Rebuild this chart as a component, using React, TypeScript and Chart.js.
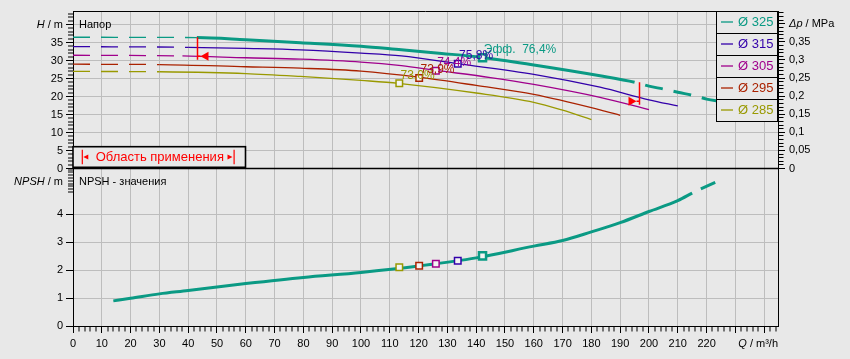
import React, { useEffect, useRef } from 'react';
import { Chart, registerables } from 'chart.js';

Chart.register(...registerables);

const FONT = '"Liberation Sans", Arial, Helvetica, sans-serif';
const BG = '#e8e8e8';
const GRID = '#bdbdbd';

// ---- series ----
const diameters = ['Ø 325', 'Ø 315', 'Ø 305', 'Ø 295', 'Ø 285'];
const colors = ['#0a9a84', '#3300aa', '#a0008c', '#aa2200', '#999900'];

const q325 = [0, 43, 60, 79, 100, 114, 128, 142, 160, 183, 195, 200, 205, 210, 216, 220, 225];
const h325 = [36.5, 36.4, 35.8, 35.0, 34.0, 33.0, 32.0, 30.9, 28.8, 25.8, 24.0, 22.9, 22.1, 21.2, 20.2, 19.3, 18.6];
const q315 = [0, 40, 60, 79, 100, 114, 134, 160, 183, 200, 210];
const h315 = [33.9, 33.7, 33.4, 33.0, 32.1, 31.3, 29.1, 26.2, 22.6, 19.1, 17.4];
const q305 = [0, 38, 60, 79, 100, 114, 126, 145, 160, 183, 200];
const h305 = [31.5, 31.3, 30.8, 30.4, 29.6, 28.6, 27.3, 25.3, 23.4, 19.8, 16.4];
const q295 = [0, 30, 60, 79, 100, 120, 140, 160, 183, 190];
const h295 = [29.0, 28.9, 28.3, 27.9, 27.1, 25.4, 23.1, 20.6, 16.3, 14.8];
const q285 = [0, 30, 60, 79, 100, 113, 140, 160, 170, 180];
const h285 = [27.0, 26.9, 26.4, 25.6, 24.5, 23.7, 21.0, 18.4, 16.2, 13.6];

// dashed (outside range) until these flows; 325 dashed again after extStartQ
const dashEndQ = [43, 40, 38, 30, 30];
const extStartQ = 195;

// efficiency points
const effQ = [142.2, 133.6, 126.0, 120.2, 113.3];
const effH = [30.8, 29.1, 27.2, 25.2, 23.7];
const effNpsh = [2.51, 2.34, 2.23, 2.16, 2.1];
const effLabels = ['Эфф.  76,4%', '75,8%', '74,4%', '73,9%', '73,0%'];

// NPSH curve
const npshQ = [14, 20, 30, 40, 50, 60, 80, 100, 120, 140, 160, 170, 180, 190, 200, 210, 215, 216.5, 218, 223];
const npshV = [0.9, 0.99, 1.15, 1.27, 1.4, 1.52, 1.74, 1.92, 2.15, 2.44, 2.86, 3.06, 3.37, 3.7, 4.1, 4.49, 4.76, null, 4.91, 5.14];

// application range
const appRangeQ = [43, 196.4];
const appRangeH = [36.5, 24.0];

// axes
const xMax = 244.8;
const hMax = 43.8;
const npshMax = 5.64;
const dpMax = 0.4354;
const npshTicks = [0, 1, 2, 3, 4, 4.8, 4.9, 5, 5.1, 5.2, 5.3, 5.4, 5.5, 5.6];

type Part = [string, boolean];
function drawParts(ctx: CanvasRenderingContext2D, parts: Part[], x: number, y: number, align: 'left' | 'right', size: number, color: string) {
  ctx.save();
  ctx.fillStyle = color;
  ctx.textBaseline = 'middle';
  ctx.textAlign = 'left';
  const fonts = parts.map(([, it]) => `${it ? 'italic ' : ''}${size}px ${FONT}`);
  let total = 0;
  const widths = parts.map(([t], i) => {
    ctx.font = fonts[i];
    const w = ctx.measureText(t).width;
    total += w;
    return w;
  });
  let cx = align === 'right' ? x - total : x;
  parts.forEach(([t], i) => {
    ctx.font = fonts[i];
    ctx.fillText(t, cx, y);
    cx += widths[i];
  });
  ctx.restore();
}

const overlay = {
  id: 'overlay',
  beforeDraw(chart: any) {
    const { ctx, width, height } = chart;
    ctx.save();
    ctx.fillStyle = BG;
    ctx.fillRect(0, 0, width, height);
    ctx.restore();
  },
  afterDraw(chart: any) {
    const { ctx, chartArea: ca } = chart;
    const xs = chart.scales.x;
    const yH = chart.scales.yH;
    const yN = chart.scales.yN;
    const yP = chart.scales.yP;
    ctx.save();

    // frame top & divider
    ctx.strokeStyle = '#000';
    ctx.lineWidth = 1;
    ctx.beginPath();
    ctx.moveTo(ca.left, Math.round(ca.top) + 0.5);
    ctx.lineTo(ca.right, Math.round(ca.top) + 0.5);
    ctx.stroke();
    ctx.lineWidth = 1.5;
    ctx.beginPath();
    ctx.moveTo(ca.left, yH.bottom);
    ctx.lineTo(ca.right, yH.bottom);
    ctx.stroke();

    // efficiency labels
    const meta = chart.getDatasetMeta(0);
    meta.data.forEach((pt: any, i: number) => {
      ctx.font = `12px ${FONT}`;
      ctx.fillStyle = colors[i];
      ctx.textAlign = 'left';
      ctx.textBaseline = 'middle';
      ctx.fillText(effLabels[i], pt.x + 1.3, pt.y - 8);
    });

    // application range markers
    appRangeQ.forEach((q, i) => {
      const px = Math.round(xs.getPixelForValue(q)) + 0.5;
      const top = yH.getPixelForValue(appRangeH[i]);
      ctx.strokeStyle = '#ff0000';
      ctx.fillStyle = '#ff0000';
      ctx.lineWidth = 1.5;
      ctx.beginPath();
      ctx.moveTo(px, top);
      ctx.lineTo(px, top + 22.5);
      const ty = top + 19;
      const dir = i === 0 ? 1 : -1;
      const tip = px + dir * 3;
      const base = px + dir * 11;
      ctx.moveTo(px, ty);
      ctx.lineTo(tip, ty);
      ctx.stroke();
      ctx.beginPath();
      ctx.moveTo(tip, ty);
      ctx.lineTo(base, ty - 4.5);
      ctx.lineTo(base, ty + 4.5);
      ctx.closePath();
      ctx.fill();
    });

    // legend
    const lx0 = ca.right - 62;
    const lx1 = ca.right - 1;
    const rowH = 22;
    ctx.fillStyle = BG;
    ctx.fillRect(lx0, ca.top, lx1 - lx0, rowH * diameters.length);
    diameters.forEach((d, i) => {
      const y0 = Math.round(ca.top) + i * rowH;
      const yc = y0 + rowH / 2;
      ctx.strokeStyle = '#000';
      ctx.lineWidth = 1;
      ctx.strokeRect(Math.round(lx0) + 0.5, y0 + 0.5, lx1 - lx0, rowH);
      ctx.strokeStyle = colors[i];
      ctx.lineWidth = 1.3;
      ctx.beginPath();
      ctx.moveTo(lx0 + 5, yc);
      ctx.lineTo(lx0 + 17, yc);
      ctx.stroke();
      ctx.fillStyle = colors[i];
      ctx.font = `13px ${FONT}`;
      ctx.textAlign = 'left';
      ctx.textBaseline = 'middle';
      ctx.fillText(d, lx0 + 22, yc + 0.5);
    });

    // application box
    const bx0 = ca.left;
    const bx1 = ca.left + 172.5;
    const by1 = yH.bottom - 1.2;
    const by0 = by1 - 20.6;
    const bm = (by0 + by1) / 2;
    ctx.fillStyle = BG;
    ctx.fillRect(bx0, by0, bx1 - bx0, by1 - by0);
    ctx.strokeStyle = '#000';
    ctx.lineWidth = 1.6;
    ctx.strokeRect(bx0, by0, bx1 - bx0, by1 - by0);
    ctx.strokeStyle = '#ff0000';
    ctx.fillStyle = '#ff0000';
    ctx.lineWidth = 1.2;
    ctx.beginPath();
    ctx.moveTo(bx0 + 9.3, by0 + 3);
    ctx.lineTo(bx0 + 9.3, by1 - 3);
    ctx.moveTo(bx1 - 11.4, by0 + 3);
    ctx.lineTo(bx1 - 11.4, by1 - 3);
    ctx.stroke();
    ctx.beginPath();
    ctx.moveTo(bx0 + 10.3, bm);
    ctx.lineTo(bx0 + 15.3, bm - 2.5);
    ctx.lineTo(bx0 + 15.3, bm + 2.5);
    ctx.closePath();
    ctx.moveTo(bx1 - 13, bm);
    ctx.lineTo(bx1 - 18, bm - 2.5);
    ctx.lineTo(bx1 - 18, bm + 2.5);
    ctx.closePath();
    ctx.fill();
    ctx.font = `13px ${FONT}`;
    ctx.textAlign = 'left';
    ctx.textBaseline = 'middle';
    ctx.fillText('Область применения', bx0 + 22.7, bm + 0.5);

    // titles
    drawParts(ctx, [['H', true], [' / m', false]], ca.left - 10, yH.getPixelForValue(40), 'right', 11, '#000');
    drawParts(ctx, [['Δp', true], [' / MPa', false]], ca.right + 11, yP.getPixelForValue(0.4), 'left', 11, '#000');
    drawParts(ctx, [['NPSH', true], [' / m', false]], ca.left - 10, yN.top + 13.5, 'right', 11, '#000');
    drawParts(ctx, [['Q', true], [' / m³/h', false]], ca.right, xs.top + 18, 'right', 11, '#000');
    drawParts(ctx, [['Напор', false]], ca.left + 6, ca.top + 13.5, 'left', 11, '#000');
    drawParts(ctx, [['NPSH - значения', false]], ca.left + 6, yN.top + 13.5, 'left', 11, '#000');

    ctx.restore();
  },
};

const tickFont = { family: FONT, size: 11 };

export default function App() {
  const ref = useRef<HTMLCanvasElement>(null);

  useEffect(() => {
    const canvas = ref.current;
    if (!canvas) return;
    const pts = (qs: number[], hs: (number | null)[]) => qs.map((q, k) => ({ x: q, y: hs[k] }));
    const curves: [number[], number[]][] = [
      [q325, h325],
      [q315, h315],
      [q305, h305],
      [q295, h295],
      [q285, h285],
    ];
    const curveSets = curves.map(([qs, hs], i) => ({
      type: 'line',
      label: diameters[i],
      data: pts(qs, hs),
      yAxisID: 'yH',
      borderColor: colors[i],
      borderWidth: i === 0 ? 3 : 1.3,
      pointRadius: 0,
      fill: false,
      cubicInterpolationMode: 'monotone',
      segment: {
        borderDash: (c: any) =>
          c.p0.parsed.x < dashEndQ[i] - 1e-6 ? [17, 11] : i === 0 && c.p0.parsed.x >= extStartQ - 1e-6 ? [18, 11] : [],
        borderDashOffset: (c: any) => (i === 0 && c.p0.parsed.x >= extStartQ - 1e-6 ? 18 : 0),
        borderWidth: (c: any) => (c.p0.parsed.x < dashEndQ[i] - 1e-6 ? 1.3 : i === 0 ? 3 : 1.3),
      },
    }));

    const effTop = {
      type: 'line',
      label: 'eff',
      data: pts(effQ, effH),
      yAxisID: 'yH',
      showLine: false,
      pointStyle: 'rect',
      pointRadius: effQ.map((_, i) => (i === 0 ? 5 : 4.6)),
      pointBorderWidth: effQ.map((_, i) => (i === 0 ? 2.5 : 1.5)),
      pointBorderColor: colors,
      pointBackgroundColor: '#f4f4f4',
    };
    const effBottom = {
      type: 'line',
      label: 'effN',
      data: pts(effQ, effNpsh),
      yAxisID: 'yN',
      showLine: false,
      pointStyle: 'rect',
      pointRadius: effQ.map((_, i) => (i === 0 ? 5 : 4.6)),
      pointBorderWidth: effQ.map((_, i) => (i === 0 ? 2.5 : 1.5)),
      pointBorderColor: colors,
      pointBackgroundColor: '#f4f4f4',
    };
    const npshSet = {
      type: 'line',
      label: 'NPSH',
      data: pts(npshQ, npshV),
      yAxisID: 'yN',
      borderColor: colors[0],
      borderWidth: 3,
      pointRadius: 0,
      fill: false,
      spanGaps: false,
      cubicInterpolationMode: 'monotone',
    };

    const isMult = (v: number, m: number) => Math.abs(v / m - Math.round(v / m)) < 1e-6;

    const chart = new Chart(canvas, {
      type: 'line',
      data: { datasets: [effTop, effBottom, ...curveSets, npshSet] as any },
      options: {
        responsive: false,
        animation: false,
        devicePixelRatio: 1,
        events: [],
        layout: { padding: { top: 11, left: 0, right: 0, bottom: 0 } },
        plugins: { legend: { display: false }, tooltip: { enabled: false } },
        scales: {
          x: {
            type: 'linear',
            position: 'bottom',
            min: 0,
            max: xMax,
            afterFit: (s: any) => {
              s.height = 33;
            },
            ticks: {
              stepSize: 2,
              autoSkip: false,
              includeBounds: false,
              maxRotation: 0,
              padding: 4,
              color: '#000',
              font: tickFont,
              callback: (v: any) => (isMult(v, 10) && v <= 220 ? String(v) : ''),
            },
            grid: {
              color: GRID,
              lineWidth: (c: any) => (c.tick && isMult(c.tick.value, 10) ? 1 : 0),
              tickWidth: 1,
              tickColor: '#000',
              tickLength: 7,
              tickBorderDash: (c: any) => (c.tick && isMult(c.tick.value, 10) ? [] : [4.5, 100]),
            },
            border: { display: true, color: '#000', width: 1 },
          },
          yH: {
            type: 'linear',
            position: 'left',
            stack: 'left',
            stackWeight: 1,
            weight: 1,
            min: 0,
            max: hMax,
            afterFit: (s: any) => {
              s.width = 73;
            },
            ticks: {
              stepSize: 1,
              autoSkip: false,
              includeBounds: false,
              padding: 3,
              color: '#000',
              font: tickFont,
              callback: (v: any) => (isMult(v, 5) && v <= 35 ? String(v) : ''),
            },
            grid: {
              color: GRID,
              lineWidth: (c: any) => (c.tick && isMult(c.tick.value, 5) ? 1 : 0),
              tickWidth: 1,
              tickColor: '#000',
              tickLength: 7,
              tickBorderDash: (c: any) => (c.tick && isMult(c.tick.value, 5) ? [] : [0, 2, 5, 100]),
            },
            border: { display: true, color: '#000', width: 1 },
          },
          yN: {
            type: 'linear',
            position: 'left',
            stack: 'left',
            stackWeight: 1,
            weight: 0,
            min: 0,
            max: npshMax,
            afterFit: (s: any) => {
              s.width = 73;
            },
            afterBuildTicks: (s: any) => {
              s.ticks = npshTicks.map((v) => ({ value: v }));
            },
            ticks: {
              autoSkip: false,
              padding: 3,
              color: '#000',
              font: tickFont,
              callback: (v: any) => (isMult(v, 1) && v <= 4 ? String(v) : ''),
            },
            grid: {
              color: GRID,
              lineWidth: (c: any) => (c.tick && isMult(c.tick.value, 1) && c.tick.value <= 4 ? 1 : 0),
              tickWidth: 1,
              tickColor: '#000',
              tickLength: 7,
              tickBorderDash: (c: any) =>
                c.tick && isMult(c.tick.value, 1) && c.tick.value <= 4 ? [] : [0, 2, 5, 100],
            },
            border: { display: true, color: '#000', width: 1 },
          },
          yP: {
            type: 'linear',
            position: 'right',
            min: -dpMax,
            max: dpMax,
            afterFit: (s: any) => {
              s.width = 72;
            },
            afterBuildTicks: (s: any) => {
              s.ticks = s.ticks.filter((t: any) => t.value > -1e-9);
            },
            ticks: {
              stepSize: 0.01,
              autoSkip: false,
              includeBounds: false,
              padding: 4,
              color: '#000',
              font: tickFont,
              callback: (v: any) =>
                v > -1e-9 && v < 0.3501 && isMult(v, 0.05) ? String(+Number(v).toFixed(2)).replace('.', ',') : '',
            },
            grid: {
              drawOnChartArea: false,
              color: GRID,
              tickWidth: 1,
              tickColor: '#000',
              tickLength: 7,
              tickBorderDash: (c: any) => (c.tick && isMult(c.tick.value, 0.05) ? [] : [4.5, 100]),
            },
            border: { display: true, color: '#000', width: 1 },
          },
        },
      } as any,
      plugins: [overlay as any],
    });
    return () => chart.destroy();
  }, []);

  return (
    <div style={{ position: 'fixed', left: 0, top: 0, width: 850, height: 359, background: BG }}>
      <canvas ref={ref} width={850} height={359} style={{ display: 'block', width: 850, height: 359 }} />
    </div>
  );
}
